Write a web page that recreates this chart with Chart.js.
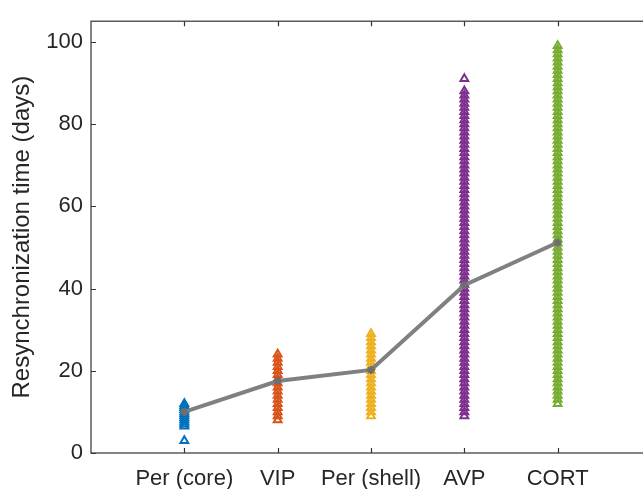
<!DOCTYPE html>
<html>
<head>
<meta charset="utf-8">
<script src="https://cdn.jsdelivr.net/npm/chart.js@4/dist/chart.umd.min.js"></script>
<style>
  html, body { margin: 0; padding: 0; background: #fff; overflow: hidden; width: 643px; height: 489px; }
  canvas { display: block; }
</style>
</head>
<body>
<canvas id="chart" width="660" height="489"></canvas>
<script>
// ----- data -----
const categories = ["Per (core)", "VIP", "Per (shell)", "AVP", "CORT"];
const perCore  = [3, 6.5, 7, 7.5, 8, 8.5, 9, 9.5, 10, 10.5, 11, 11.5, 12];
const vip      = [8, 9, 10, 11, 12, 13, 14, 15, 16, 17, 18, 19, 20, 21, 22, 23, 24];
const perShell = [9, 10, 11, 12, 13, 14, 15, 16, 17, 18, 19, 20, 21, 22, 23, 24, 25, 26, 27, 28, 29];
const avp      = [9, 10, 11, 12, 13, 14, 15, 16, 17, 18, 19, 20, 21, 22, 23, 24, 25, 26, 27, 28, 29,
                  30, 31, 32, 33, 34, 35, 36, 37, 38, 39, 40, 41, 42, 43, 44, 45, 46, 47, 48, 49,
                  50, 51, 52, 53, 54, 55, 56, 57, 58, 59, 60, 61, 62, 63, 64, 65, 66, 67, 68, 69,
                  70, 71, 72, 73, 74, 75, 76, 77, 78, 79, 80, 81, 82, 83, 84, 85, 86, 87, 88, 91];
const cort     = [12, 13, 14, 15, 16, 17, 18, 19, 20, 21, 22, 23, 24, 25, 26, 27, 28, 29,
                  30, 31, 32, 33, 34, 35, 36, 37, 38, 39, 40, 41, 42, 43, 44, 45, 46, 47, 48, 49,
                  50, 51, 52, 53, 54, 55, 56, 57, 58, 59, 60, 61, 62, 63, 64, 65, 66, 67, 68, 69,
                  70, 71, 72, 73, 74, 75, 76, 77, 78, 79, 80, 81, 82, 83, 84, 85, 86, 87, 88, 89,
                  90, 91, 92, 93, 94, 95, 96, 97, 98, 99];
const means    = [10, 17.5, 20.2, 40.8, 51.2];
const yTicks   = [0, 20, 40, 60, 80, 100];
const colors   = ["#0072BD", "#D95319", "#EDB120", "#7E2F8E", "#77AC30"];

// ----- helpers -----
const groups = [perCore, vip, perShell, avp, cort];
const FAMILY = "'Liberation Sans', Arial, Helvetica, sans-serif";
const TICK_FONT = { family: FAMILY, size: 22 };
const AX = "#333333", TXT = "#262626";

const scatterSets = groups.map((vals, i) => ({
  type: "scatter",
  data: vals.map(v => ({ x: i + 1, y: v })),
  pointStyle: "triangle", pointRadius: 4.5, pointBorderWidth: 2,
  borderColor: colors[i], backgroundColor: "rgba(0,0,0,0)",
  order: 2
}));

const meanSet = {
  type: "line",
  data: means.map((v, i) => ({ x: i + 1, y: v })),
  borderColor: "#808080", borderWidth: 4,
  pointStyle: "star", pointRadius: 4, pointBorderWidth: 2,
  pointBorderColor: "#6e6e6e", pointBackgroundColor: "#6e6e6e",
  tension: 0, order: 0
};

// box + inward ticks, matlab style
const frame = {
  id: "frame",
  afterDraw(chart) {
    const { ctx, chartArea: a, scales: { x, y } } = chart;
    ctx.save();
    ctx.strokeStyle = AX; ctx.lineWidth = 1.2;
    ctx.strokeRect(a.left, a.top, a.right - a.left, a.bottom - a.top);
    ctx.beginPath();
    yTicks.forEach(v => {
      const py = Math.round(y.getPixelForValue(v)) + 0.5;
      ctx.moveTo(a.left, py); ctx.lineTo(a.left + 5, py);
      ctx.moveTo(a.right, py); ctx.lineTo(a.right - 5, py);
    });
    categories.forEach((_, i) => {
      const px = Math.round(x.getPixelForValue(i + 1)) + 0.5;
      ctx.moveTo(px, a.bottom); ctx.lineTo(px, a.bottom - 5);
      ctx.moveTo(px, a.top); ctx.lineTo(px, a.top + 5);
    });
    ctx.stroke();
    ctx.restore();
  }
};

new Chart(document.getElementById("chart").getContext("2d"), {
  data: { datasets: [...scatterSets, meanSet] },
  options: {
    responsive: false, animation: false, events: [],
    layout: { padding: { left: 0, top: 11, right: 9, bottom: 0 } },
    plugins: { legend: { display: false }, tooltip: { enabled: false } },
    scales: {
      x: {
        type: "linear", min: 0, max: 6,
        grid: { display: false, drawTicks: false }, border: { display: false },
        afterBuildTicks: (s) => { s.ticks = categories.map((_, i) => ({ value: i + 1 })); },
        ticks: { autoSkip: false, maxRotation: 0, padding: 13, color: TXT, font: TICK_FONT,
                 callback: (v) => categories[v - 1] ?? "" },
        afterFit: (s) => { s.height = 36; }
      },
      y: {
        min: 0, max: 105,
        grid: { display: false, drawTicks: false }, border: { display: false },
        afterBuildTicks: (s) => { s.ticks = yTicks.map(v => ({ value: v })); },
        ticks: { padding: 8, color: TXT, font: TICK_FONT },
        title: { display: true, text: "Resynchronization time (days)", color: TXT,
                 font: { family: FAMILY, size: 24 }, padding: { top: 8, bottom: 0 } },
        afterFit: (s) => { s.width = 91; }
      }
    }
  },
  plugins: [frame]
});
</script>
</body>
</html>
